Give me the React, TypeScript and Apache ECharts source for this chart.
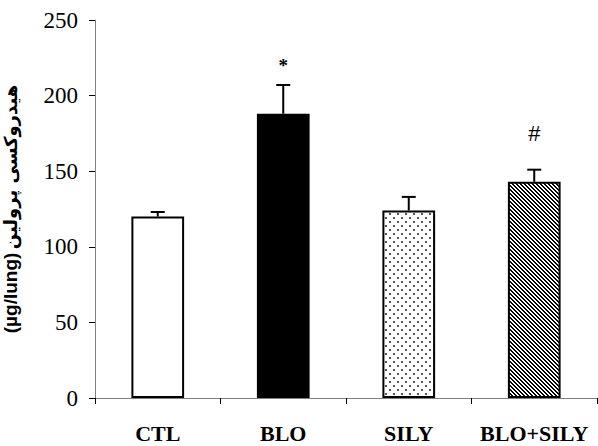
import React, { useEffect, useRef } from 'react';
import * as echarts from 'echarts';

const categories = ['CTL', 'BLO', 'SILY', 'BLO+SILY'];
const means = [120, 188, 124, 143];
const errorTops = [123, 207, 133, 151];
const marks = ['', '*', '', '#'];
const markLevels = [0, 220, 0, 175];
const yMin = 0;
const yMax = 250;
const yInterval = 50;
const yNameUnit = '(µg/lung)';
const yNameText = 'هیدروکسی پرولین';

function makeStripes(): HTMLCanvasElement {
  const c = document.createElement('canvas');
  c.width = 8;
  c.height = 8;
  const ctx = c.getContext('2d')!;
  ctx.fillStyle = '#fff';
  ctx.fillRect(0, 0, 8, 8);
  ctx.fillStyle = '#000';
  for (let y = 0; y < 8; y++) {
    for (let x = 0; x < 8; x++) {
      const m = (((x - y) % 4) + 4) % 4;
      if (m === 0 || m === 1) ctx.fillRect(x, y, 1, 1);
    }
  }
  return c;
}

function makeDots(): HTMLCanvasElement {
  const c = document.createElement('canvas');
  c.width = 8;
  c.height = 8;
  const ctx = c.getContext('2d')!;
  ctx.fillStyle = '#fff';
  ctx.fillRect(0, 0, 8, 8);
  ctx.fillStyle = '#555';
  ctx.fillRect(1, 1, 2, 2);
  ctx.fillRect(5, 5, 2, 2);
  return c;
}

export default function App() {
  const ref = useRef<HTMLDivElement>(null);
  useEffect(() => {
    if (!ref.current) return;
    const chart = echarts.init(ref.current, null, { renderer: 'svg' });
    const stripes = makeStripes();
    const dots = makeDots();
    const fills: any[] = [
      '#ffffff',
      '#000000',
      { image: dots, repeat: 'repeat', imageWidth: 8, imageHeight: 8 },
      { image: stripes, repeat: 'repeat', imageWidth: 8, imageHeight: 8 },
    ];
    const barData = means.map((v, i) => ({
      value: v,
      itemStyle: { color: fills[i], borderColor: '#000', borderWidth: 2 },
    }));
    const errData = means.map((v, i) => [i, v, errorTops[i], markLevels[i]]);

    chart.setOption({
      animation: false,
      grid: {
        left: 95,
        right: 1,
        top: 20,
        bottom: 48,
        containLabel: false,
        outerBoundsMode: 'none',
      },
      xAxis: {
        type: 'category',
        data: categories,
        axisLine: { lineStyle: { color: '#808080', width: 1 } },
        axisTick: { show: true, length: 6, lineStyle: { color: '#000' } },
        axisLabel: {
          interval: 0,
          fontFamily: '"Liberation Serif", "Times New Roman", serif',
          fontWeight: 'bold',
          fontSize: 22,
          color: '#000',
          margin: 24,
        },
      },
      yAxis: {
        type: 'value',
        min: yMin,
        max: yMax,
        interval: yInterval,
        splitLine: { show: false },
        axisLine: { show: true, lineStyle: { color: '#808080', width: 1 } },
        axisTick: { show: true, length: 6, lineStyle: { color: '#000' } },
        axisLabel: {
          fontFamily: '"Liberation Serif", "Times New Roman", serif',
          fontSize: 23,
          color: '#000',
          margin: 17,
        },
        name: '{u|' + yNameUnit + '} {a|' + yNameText + '}',
        nameLocation: 'middle',
        nameRotate: 90,
        nameGap: 75,
        nameTextStyle: {
          rich: {
            u: {
              fontFamily: '"Liberation Sans", Arial, sans-serif',
              fontWeight: 'bold',
              fontSize: 19,
              color: '#000',
            },
            a: {
              fontFamily: '"DejaVu Sans", sans-serif',
              fontWeight: 'bold',
              fontSize: 18,
              color: '#000',
            },
          },
        },
      },
      series: [
        {
          type: 'bar',
          data: barData,
          barWidth: '42%',
          z: 2,
        },
        {
          type: 'custom',
          z: 3,
          data: errData,
          renderItem: (params: any, api: any) => {
            const i = api.value(0);
            const top = api.coord([i, api.value(1)]);
            const err = api.coord([i, api.value(2)]);
            const children: any[] = [
              {
                type: 'line',
                shape: { x1: top[0], y1: top[1], x2: err[0], y2: err[1] },
                style: { stroke: '#000', lineWidth: 2 },
              },
              {
                type: 'line',
                shape: { x1: err[0] - 7, y1: err[1], x2: err[0] + 7, y2: err[1] },
                style: { stroke: '#000', lineWidth: 2 },
              },
            ];
            const mark = marks[params.dataIndex];
            if (mark) {
              const mp = api.coord([i, api.value(3)]);
              children.push({
                type: 'text',
                x: mp[0],
                y: mp[1],
                style: {
                  text: mark,
                  fill: '#000',
                  font: mark === '#' ? '22px "Liberation Sans", Arial, sans-serif' : 'bold 19px "Liberation Serif", serif',
                  align: 'center',
                  verticalAlign: 'middle',
                },
              });
            }
            return { type: 'group', children };
          },
        },
      ],
    });
    return () => chart.dispose();
  }, []);
  return (
    <div
      ref={ref}
      style={{ position: 'fixed', left: 0, top: 0, width: 598, height: 446, background: '#fff' }}
    />
  );
}
